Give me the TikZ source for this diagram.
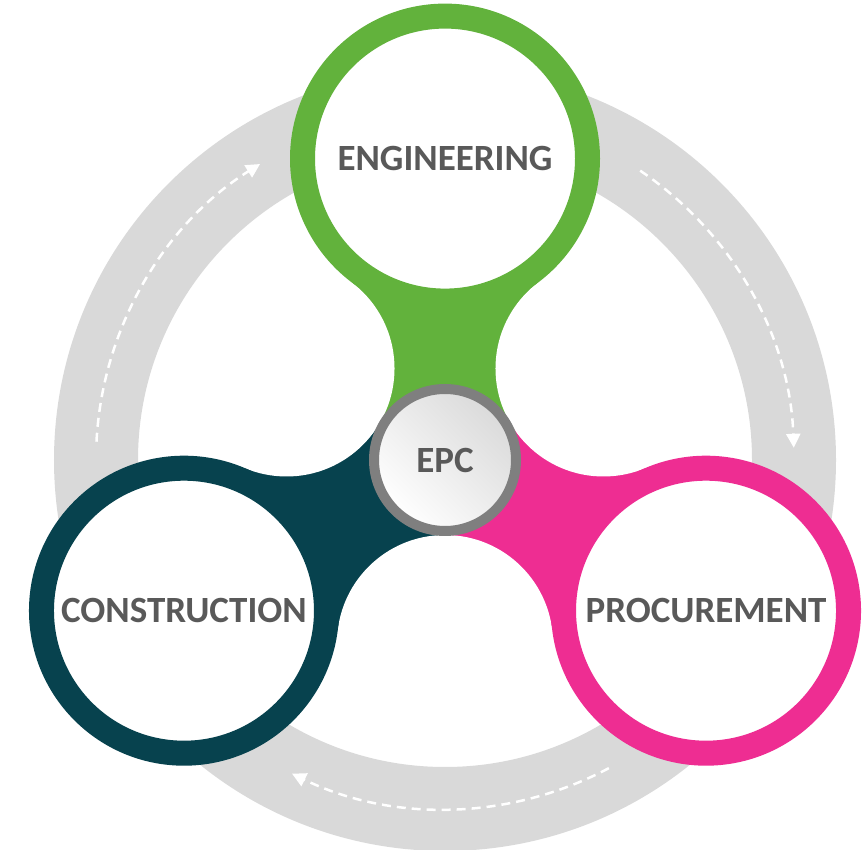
\documentclass[tikz,border=0pt]{standalone}
\usepackage{fontspec}
\setmainfont{Carlito}
\usetikzlibrary{arrows.meta}

\definecolor{engreen}{HTML}{62B23C}
\definecolor{procpink}{HTML}{EE2D92}
\definecolor{conteal}{HTML}{07424E}
\definecolor{ringgray}{HTML}{D9D9D9}
\definecolor{hubgray}{HTML}{7F7F7F}
\definecolor{hubshade}{HTML}{DADADA}
\definecolor{labelgray}{HTML}{595959}

\begin{document}
\begin{tikzpicture}[x=1pt, y=1pt,
	phase/.style={draw, circle, line width=25pt, fill=white, minimum size=285pt, inner sep=0pt, text=labelgray, font=\fontsize{37}{40}\selectfont\bfseries},
	hub/.style={draw=hubgray, circle, line width=10pt, minimum size=142pt, inner sep=0pt, top color=hubshade, bottom color=white, shading angle=-45, text=labelgray, font=\fontsize{37}{40}\selectfont\bfseries},
	flow/.style={draw=white, line width=2.5pt, dash pattern=on 9pt off 6pt, -{Triangle[length=14pt,width=14pt,fill=white]}}]
	\useasboundingbox (0,0) rectangle (862,849);
	\coordinate (c) at (445,389);

	% cycle ring with arrows
	\draw[ringgray, line width=84pt] (c) circle[radius=349];
	\begin{scope}[shift={(c)}]
		\draw[flow] (56:349) arc[start angle=56, end angle=2, radius=349];
		\draw[flow] (-62:349) arc[start angle=-62, end angle=-116, radius=349];
		\draw[flow] (177:349) arc[start angle=177, end angle=122, radius=349];

		% necks between hub and phases
		\foreach \a/\col in {90/engreen, -30/procpink, 210/conteal}
			\fill[\col] (0,0) -- (\a-60:120) -- (\a-27.7:200.7) -- (\a:301.4) -- (\a+27.7:200.7) -- (\a+60:120) -- cycle;
		\foreach \a in {30, -90, 150}
			\fill[white] (\a:183) circle[radius=108];

		\node[phase, draw=engreen] (eng) at (90:301.4) {ENGINEERING};
		\node[phase, draw=procpink] (proc) at (-30:301.4) {PROCUREMENT};
		\node[phase, draw=conteal] (cons) at (210:301.4) {CONSTRUCTION};
		\node[hub] (epc) at (0,0) {EPC};
	\end{scope}
\end{tikzpicture}
\end{document}
